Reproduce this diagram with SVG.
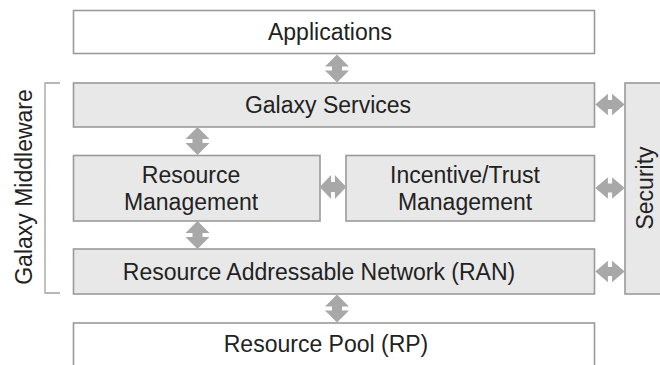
<svg xmlns="http://www.w3.org/2000/svg" xmlns:xlink="http://www.w3.org/1999/xlink" width="660" height="365" viewBox="0 0 660 365">
  <style>
    .box { stroke: #9a9a9a; stroke-width: 1.6; }
    .white { fill: #ffffff; }
    .gray { fill: #e8e8e8; }
    .lbl { font-family: "Liberation Sans", Arial, sans-serif; font-size: 23px; fill: #222222; text-anchor: middle; }
    .arrow { fill: #a8a8a8; }
    .bracket { fill: none; stroke: #a0a0a0; stroke-width: 1.3; }
  </style>
  <defs>
    <path id="dbl" class="arrow" d="M0,-14 L12,-2 L5,-2 L5,2 L12,2 L0,14 L-12,2 L-5,2 L-5,-2 L-12,-2 Z"/>
  </defs>
  <rect width="660" height="365" fill="#ffffff"/>

  <g id="applications">
    <rect class="box white" x="73.5" y="10.5" width="521" height="43"/>
    <text class="lbl" x="330" y="40">Applications</text>
  </g>
  <g id="galaxy-services">
    <rect class="box gray" x="73.5" y="83" width="521" height="44"/>
    <text class="lbl" x="328" y="113">Galaxy Services</text>
  </g>
  <g id="resource-management">
    <rect class="box gray" x="73.5" y="155.5" width="246.5" height="65.5"/>
    <text class="lbl" x="191" y="183">Resource</text>
    <text class="lbl" x="191" y="210">Management</text>
  </g>
  <g id="incentive-trust">
    <rect class="box gray" x="346" y="155.5" width="248.5" height="65.5"/>
    <text class="lbl" x="465" y="183">Incentive/Trust</text>
    <text class="lbl" x="465" y="210">Management</text>
  </g>
  <g id="ran">
    <rect class="box gray" x="73.5" y="249" width="521" height="45"/>
    <text class="lbl" x="319" y="280">Resource Addressable Network (RAN)</text>
  </g>
  <g id="resource-pool">
    <rect class="box white" x="73.5" y="323" width="521" height="60"/>
    <text class="lbl" x="326" y="352">Resource Pool (RP)</text>
  </g>
  <g id="security">
    <rect class="box gray" x="625" y="83" width="50" height="211"/>
    <text class="lbl" transform="translate(653,188) rotate(-90)">Security</text>
  </g>
  <g id="galaxy-middleware">
    <polyline class="bracket" points="60,83 45,83 45,293 60,293"/>
    <text class="lbl" transform="translate(32,187) rotate(-90)">Galaxy Middleware</text>
  </g>

  <g id="connectors">
    <use xlink:href="#dbl" href="#dbl" transform="translate(337,68.5)"/>
    <use xlink:href="#dbl" href="#dbl" transform="translate(197.5,141)"/>
    <use xlink:href="#dbl" href="#dbl" transform="translate(197.5,235)"/>
    <use xlink:href="#dbl" href="#dbl" transform="translate(337,308.5)"/>
    <use xlink:href="#dbl" href="#dbl" transform="translate(333,187) rotate(90) scale(1,0.95)"/>
    <use xlink:href="#dbl" href="#dbl" transform="translate(610,104.5) rotate(90) scale(0.9,1.05)"/>
    <use xlink:href="#dbl" href="#dbl" transform="translate(610,188) rotate(90) scale(0.9,1.05)"/>
    <use xlink:href="#dbl" href="#dbl" transform="translate(610,271.5) rotate(90) scale(0.9,1.05)"/>
  </g>
</svg>
